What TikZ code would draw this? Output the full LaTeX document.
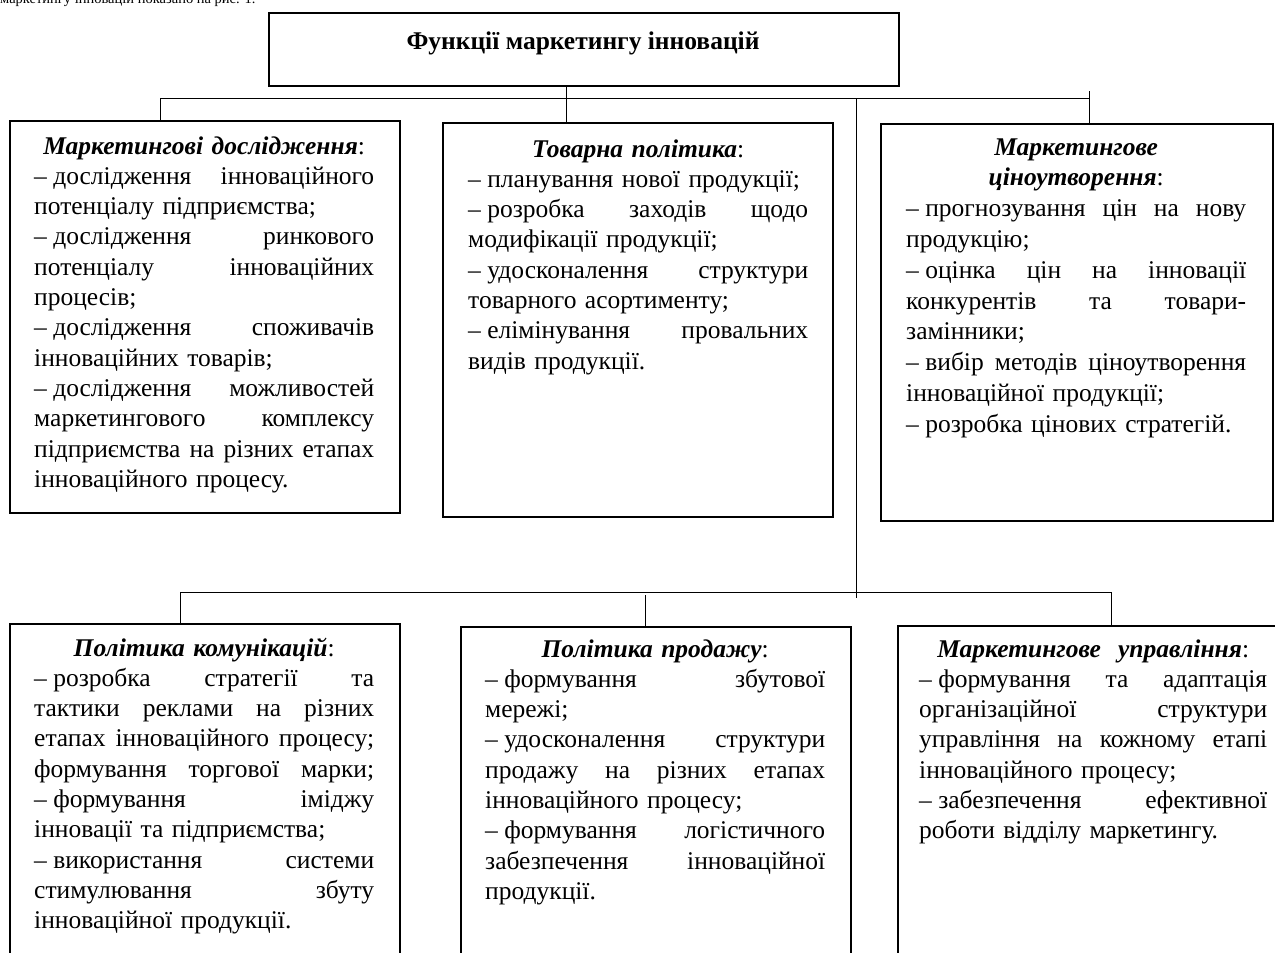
\documentclass[tikz,border=0pt]{standalone}
\usepackage{fontspec}
\setmainfont{Liberation Serif}
% a dash with a fixed space after it, one justified line, one centred heading line
\newcommand\dd{–\hspace{.25em}}
\newcommand\jl[1]{\leavevmode\hbox to\linewidth{\spaceskip=.25em plus 1fil\relax #1}\\}
\newcommand\hd[1]{\makebox[\linewidth][c]{#1}\\}
\newcommand\bi[1]{\textbf{\textit{#1}}}
\begin{document}
\begin{tikzpicture}[x=1pt,y=-1pt,
  panel/.style={draw, line width=1.6pt, inner sep=0pt, anchor=north west, minimum width=390pt},
  body/.style={inner sep=0pt, text width=340pt, align=left, anchor=base west,
               font=\fontsize{25.5}{30.3}\selectfont},
  link/.style={line width=1pt}]
\useasboundingbox (0,0) rectangle (1275,953);
\clip (0,0) rectangle (1275,953);

% sentence above the scheme, running off the top edge
\node[anchor=base west, inner sep=0pt, font=\fontsize{14.5}{16}\selectfont] (intro) at (0,3)
  {маркетингу інновацій показано на рис. 1.};

% root box
\node[panel, minimum width=630pt, minimum height=73pt] (top) at (268,12) {};
\node[anchor=base, inner sep=0pt, font=\fontsize{25.5}{30}\selectfont\bfseries] (toptitle) at (583,49)
  {Функції маркетингу інновацій};

% first row
\node[panel, minimum height=392pt] (b1) at (9,120) {};
\node[panel, minimum height=394pt] (b2) at (442,122) {};
\node[panel, minimum width=392pt, minimum height=397pt] (b3) at (880,123) {};

\node[body] (t1) at ([xshift=25pt,yshift=-34pt]b1.north west) {%
\hd{\bi{Маркетингові дослідження}:}
\jl{\dd дослідження інноваційного}
потенціалу підприємства;\\
\jl{\dd дослідження ринкового}
\jl{потенціалу інноваційних}
процесів;\\
\jl{\dd дослідження споживачів}
інноваційних товарів;\\
\jl{\dd дослідження можливостей}
\jl{маркетингового комплексу}
\jl{підприємства на різних етапах}
інноваційного процесу.};

\node[body] (t2) at ([xshift=26pt,yshift=-35pt]b2.north west) {%
\hd{\bi{Товарна політика}:}
\dd планування нової продукції;\\
\jl{\dd розробка заходів щодо}
модифікації продукції;\\
\jl{\dd удосконалення структури}
товарного асортименту;\\
\jl{\dd елімінування провальних}
видів продукції.};

\node[body, font=\fontsize{25.5}{30.8}\selectfont] (t3) at ([xshift=26pt,yshift=-32pt]b3.north west) {%
\hd{\bi{Маркетингове}}
\hd{\bi{ціноутворення}:}
\jl{\dd прогнозування цін на нову}
продукцію;\\
\jl{\dd оцінка цін на інновації}
\jl{конкурентів та товари-}
замінники;\\
\jl{\dd вибір методів ціноутворення}
інноваційної продукції;\\
\dd розробка цінових стратегій.};

% second row
\node[panel, minimum height=340pt] (b4) at (9,623) {};
\node[panel, minimum height=340pt] (b5) at (460,626) {};
\node[panel, minimum height=340pt] (b6) at (897,625) {};

\node[body] (t4) at ([xshift=25pt,yshift=-33pt]b4.north west) {%
\hd{\bi{Політика комунікацій}:}
\jl{\dd розробка стратегії та}
\jl{тактики реклами на різних}
\jl{етапах інноваційного процесу;}
\jl{формування торгової марки;}
\jl{\dd формування іміджу}
інновації та підприємства;\\
\jl{\dd використання системи}
\jl{стимулювання збуту}
інноваційної продукції.};

\node[body] (t5) at ([xshift=25pt,yshift=-31pt]b5.north west) {%
\hd{\bi{Політика продажу}:}
\jl{\dd формування збутової}
мережі;\\
\jl{\dd удосконалення структури}
\jl{продажу на різних етапах}
інноваційного процесу;\\
\jl{\dd формування логістичного}
\jl{забезпечення інноваційної}
продукції.};

\node[body, text width=348pt] (t6) at ([xshift=22pt,yshift=-32pt]b6.north west) {%
\hd{\bi{Маркетингове\ \ управління}:}
\jl{\dd формування та адаптація}
\jl{організаційної структури}
\jl{управління на кожному етапі}
інноваційного процесу;\\
\jl{\dd забезпечення ефективної}
роботи відділу маркетингу.};

% connectors of the upper level
\coordinate (busL) at (160,98);
\coordinate (busR) at (1089,98);
\coordinate (stem) at (566,0);
\coordinate (spine) at (856,0);
\draw[link] (busL) -- (busR);
\draw[link] (busL) -- (busL |- b1.north);
\draw[link] (top.south -| stem) -- (b2.north -| stem);
\draw[link] ([yshift=7pt]busR) -- (busR |- b3.north);

% connectors of the lower level
\coordinate (busL2) at (180,592);
\coordinate (busR2) at (1111,592);
\coordinate (mid2) at (645,0);
\draw[link] (busL -| spine) -- ([yshift=-6pt]busL2 -| spine);
\draw[link] (busL2) -- (busR2);
\draw[link] (busL2) -- (busL2 |- b4.north);
\draw[link] ([yshift=-3pt]busL2 -| mid2) -- (b5.north -| mid2);
\draw[link] (busR2) -- (busR2 |- b6.north);
\end{tikzpicture}
\end{document}
